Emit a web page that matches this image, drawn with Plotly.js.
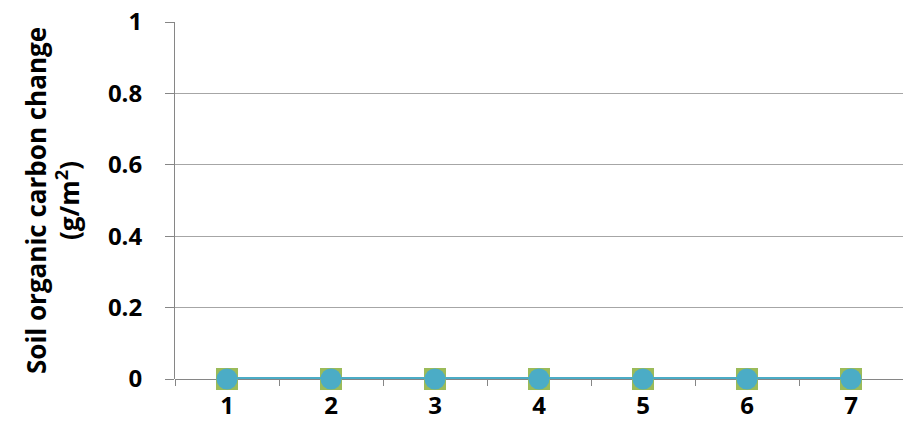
<!DOCTYPE html>
<html>
<head>
<meta charset="utf-8">
<script src="https://cdn.plot.ly/plotly-3.0.1.min.js"></script>
<style>html,body{margin:0;padding:0;background:#fff;}#chart{width:903px;height:435px;}</style>
</head>
<body>
<div id="chart"></div>
<script>
const categories = [1, 2, 3, 4, 5, 6, 7];
const seriesA = [0, 0, 0, 0, 0, 0, 0];
const seriesB = [0, 0, 0, 0, 0, 0, 0];
const yTicks = [0, 0.2, 0.4, 0.6, 0.8, 1];
const yTickLabels = ['0', '0.2', '0.4', '0.6', '0.8', '1'];

const boundaries = [];
for (let i = 0; i <= categories.length; i++) boundaries.push(categories[0] - 0.5 + i);

const tickFont = {family: 'Open Sans, Noto Sans, sans-serif', size: 24, color: '#000', weight: 'bold'};
const titleFont = {family: 'Open Sans, Noto Sans, sans-serif', size: 26, color: '#000', weight: 'bold'};

const traces = [
  {x: categories, y: seriesA, type: 'scatter', mode: 'lines+markers', cliponaxis: false,
   line: {color: '#9BBB59', width: 3},
   marker: {symbol: 'square', size: 22, color: '#9BBB59'}, hoverinfo: 'skip'},
  {x: categories, y: seriesB, type: 'scatter', mode: 'lines+markers', cliponaxis: false,
   line: {color: '#4BACC6', width: 4},
   marker: {symbol: 'circle', size: 21, color: '#4BACC6'}, hoverinfo: 'skip'},
  {x: boundaries, y: boundaries.map(() => null), xaxis: 'x2', type: 'scatter', mode: 'none', hoverinfo: 'skip'}
];

const layout = {
  width: 903, height: 435,
  margin: {l: 175, r: 0, t: 22, b: 56},
  paper_bgcolor: '#fff', plot_bgcolor: '#fff',
  showlegend: false,
  font: tickFont,
  xaxis: {
    range: [0.5, 7.5], tickvals: categories, ticktext: categories.map(String),
    showgrid: false, zeroline: false, showline: false, ticks: '',
    tickfont: tickFont, ticklabelstandoff: 10
  },
  xaxis2: {
    overlaying: 'x', range: [0.5, 7.5], tickvals: boundaries, showticklabels: false,
    ticks: 'outside', ticklen: 6, tickcolor: '#868686', tickwidth: 1,
    showgrid: false, zeroline: false, showline: false
  },
  yaxis: {
    range: [0, 1], tickvals: yTicks, ticktext: yTickLabels,
    showgrid: true, gridcolor: '#A6A6A6', gridwidth: 1,
    zeroline: true, zerolinecolor: '#868686', zerolinewidth: 1,
    showline: true, linecolor: '#868686', linewidth: 1,
    ticks: 'outside', ticklen: 9, tickcolor: '#868686',
    tickfont: tickFont, ticklabelstandoff: 18,
    title: {text: 'Soil organic carbon change<br>(g/m<sup>2</sup>)', font: titleFont, standoff: 20}
  }
};

Plotly.newPlot('chart', traces, layout, {staticPlot: true, displayModeBar: false});
</script>
</body>
</html>
